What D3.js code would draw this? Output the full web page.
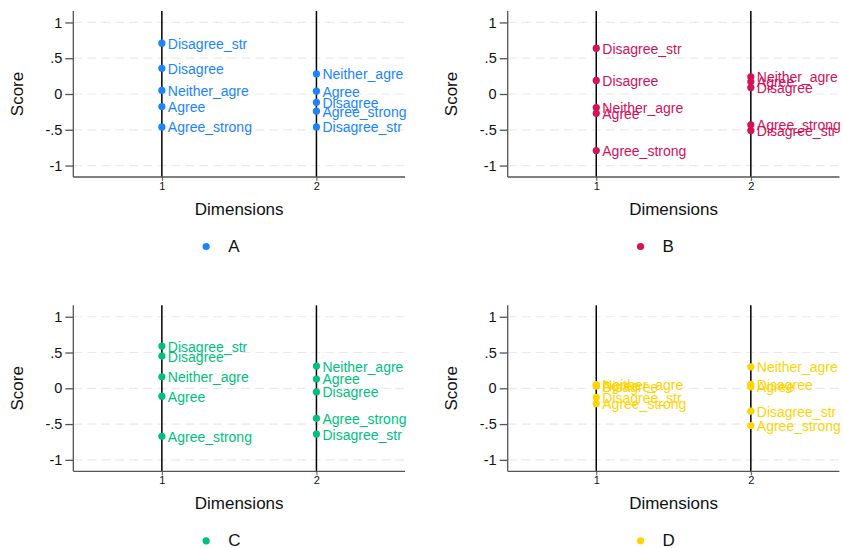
<!DOCTYPE html>
<html>
<head>
<meta charset="utf-8">
<script src="https://cdn.jsdelivr.net/npm/d3@7"></script>
<style>
  body { margin: 0; background: #fff; }
  svg { display: block; font-family: "Liberation Sans", Arial, sans-serif; }
</style>
</head>
<body>
<svg id="chart" width="843" height="548"></svg>
<script>
// categories and groups
const groups = ["A", "B", "C", "D"];
const groupColors = ["#1a85ff", "#d41159", "#00bf7f", "#ffd400"];
const categories = ["Disagree_str", "Disagree", "Neither_agre", "Agree", "Agree_strong"];
const dimTicks = [1, 2];
const scoreTicks = [-1, -0.5, 0, 0.5, 1];
const scoreTickLabels = ["-1", "-.5", "0", ".5", "1"];

// scores on dimension 1 and 2, in category order
const dim1A = [0.71, 0.36, 0.05, -0.175, -0.46];
const dim2A = [-0.46, -0.115, 0.28, 0.04, -0.24];
const dim1B = [0.64, 0.19, -0.19, -0.27, -0.79];
const dim2B = [-0.51, 0.09, 0.24, 0.17, -0.43];
const dim1C = [0.59, 0.45, 0.16, -0.11, -0.67];
const dim2C = [-0.64, -0.05, 0.31, 0.13, -0.42];
const dim1D = [-0.125, 0.03, 0.05, 0.04, -0.215];
const dim2D = [-0.32, 0.055, 0.30, 0.02, -0.52];

const dim1 = [dim1A, dim1B, dim1C, dim1D];
const dim2 = [dim2A, dim2B, dim2C, dim2D];

const svg = d3.select("#chart");

function drawPanel(i) {
    const ox = (i % 2) * 434.4;
    const oy = Math.floor(i / 2) * 294.3;
    const left = ox + 73.3, right = ox + 405, top = oy + 11, bottom = oy + 177;
    const color = groupColors[i];

    const x = d3.scaleLinear().domain([0.427, 2.573]).range([left, right]);
    const y = d3.scaleLinear().domain([-1.16, 1.16]).range([bottom, top]);
    const g = svg.append("g");

    // dashed grid
    g.selectAll(".grid").data(scoreTicks).enter().append("line")
        .attr("x1", left).attr("x2", right)
        .attr("y1", d => y(d)).attr("y2", d => y(d))
        .attr("stroke", "#eaeaea").attr("stroke-width", 1.2)
        .attr("stroke-dasharray", "9,5");

    // vertical reference lines at each dimension
    g.selectAll(".vline").data(dimTicks).enter().append("line")
        .attr("x1", d => x(d)).attr("x2", d => x(d))
        .attr("y1", top).attr("y2", bottom)
        .attr("stroke", "#000").attr("stroke-width", 1.5);

    // y axis
    const yAxis = d3.axisLeft(y).tickValues(scoreTicks)
        .tickFormat((d, k) => scoreTickLabels[k]).tickSize(8).tickPadding(3);
    const ya = g.append("g").attr("transform", `translate(${left},0)`).call(yAxis);
    ya.select(".domain").attr("d", `M0,${top}V${bottom}`).attr("stroke", "#555").attr("stroke-width", 1.3);
    ya.selectAll(".tick line").attr("stroke", "#555").attr("stroke-width", 1.3);
    ya.selectAll(".tick text").attr("font-size", 14.5).attr("fill", "#111")
        .attr("font-family", "Liberation Sans, Arial, sans-serif");

    // x axis
    const xAxis = d3.axisBottom(x).tickValues(dimTicks).tickFormat(d3.format("d"))
        .tickSize(4).tickPadding(1);
    const xa = g.append("g").attr("transform", `translate(0,${bottom})`).call(xAxis);
    xa.select(".domain").attr("d", `M${left},0H${right}`).attr("stroke", "#555").attr("stroke-width", 1.3);
    xa.selectAll(".tick line").attr("stroke", "#555");
    xa.selectAll(".tick text").attr("font-size", 11).attr("fill", "#111")
        .attr("font-family", "Liberation Sans, Arial, sans-serif");

    // axis titles
    g.append("text").attr("x", (left + right) / 2).attr("y", oy + 215)
        .attr("text-anchor", "middle").attr("font-size", 17).attr("fill", "#111")
        .text("Dimensions");
    g.append("text").attr("transform", `translate(${ox + 23},${y(0)}) rotate(-90)`)
        .attr("text-anchor", "middle").attr("font-size", 17).attr("fill", "#111")
        .text("Score");

    // points and labels
    const pts = [];
    dim1[i].forEach((v, k) => pts.push({ dim: 1, v: v, cat: categories[k] }));
    dim2[i].forEach((v, k) => pts.push({ dim: 2, v: v, cat: categories[k] }));

    g.selectAll(".pt").data(pts).enter().append("circle")
        .attr("cx", d => x(d.dim)).attr("cy", d => y(d.v))
        .attr("r", 3.6).attr("fill", color);
    g.selectAll(".lbl").data(pts).enter().append("text")
        .attr("x", d => x(d.dim) + 6).attr("y", d => y(d.v) + 5.5)
        .attr("font-size", 14).attr("fill", color)
        .text(d => d.cat);

    // legend
    const lx = (left + right) / 2;
    g.append("circle").attr("cx", lx - 33).attr("cy", oy + 246.5).attr("r", 3.6).attr("fill", color);
    g.append("text").attr("x", lx - 11).attr("y", oy + 252)
        .attr("font-size", 17).attr("fill", "#111").text(groups[i]);
}

groups.forEach((gname, i) => drawPanel(i));
</script>
</body>
</html>
